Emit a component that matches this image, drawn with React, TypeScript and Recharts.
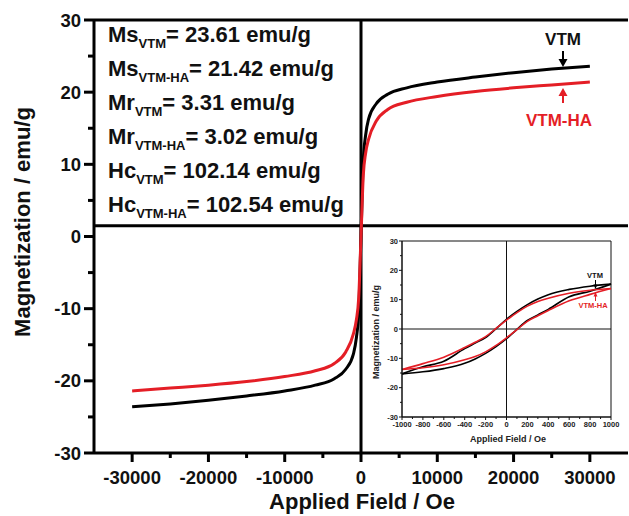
import React from 'react';
import { Label, Line, LineChart, ReferenceLine, XAxis, YAxis } from 'recharts';

const FONT = '"Liberation Sans", Arial, Helvetica, sans-serif';
const RED = '#e41e26';

// main curves (the two hysteresis branches overlap at this scale)
const mainField = [
  -30000, -25000, -20000, -15000, -10000, -6000, -3500, -2000, -1000, -600, -300, 0,
  300, 600, 1000, 2000, 3500, 6000, 10000, 15000, 20000, 25000, 30000,
];
const vtmMain = [
  -23.6, -23.2, -22.7, -22.1, -21.4, -20.6, -19.7, -18.4, -16.3, -14.0, -10.5, 0,
  10.5, 14.0, 16.3, 18.4, 19.7, 20.6, 21.4, 22.1, 22.7, 23.2, 23.6,
];
const vtmHaMain = [
  -21.4, -21.0, -20.6, -20.1, -19.4, -18.6, -17.6, -16.0, -13.5, -11.5, -8.5, 0,
  8.5, 11.5, 13.5, 16.0, 17.6, 18.6, 19.4, 20.1, 20.6, 21.0, 21.4,
];

const mainXTicks = [
  -30000, -25000, -20000, -15000, -10000, -5000, 0, 5000, 10000, 15000, 20000, 25000, 30000,
];
const mainYTicks = [-30, -25, -20, -15, -10, -5, 0, 5, 10, 15, 20, 25, 30];

// inset: low-field loop, upper = descending branch, lower = ascending branch
const insetField = [-1000, -800, -600, -400, -300, -200, -100, 0, 100, 200, 300, 400, 600, 800, 1000];
const vtmUpper = [-15.3, -12.9, -11.0, -6.7, -4.8, -2.9, 0.1, 3.3, 6.0, 8.3, 10.2, 11.7, 13.5, 14.6, 15.3];
const vtmLower = [-15.3, -14.6, -13.5, -11.7, -10.2, -8.3, -6.0, -3.3, -0.1, 2.9, 4.8, 6.7, 11.0, 12.9, 15.3];
const vtmHaUpper = [-13.8, -11.8, -9.6, -6.3, -4.5, -2.6, 0.2, 3.0, 5.6, 7.8, 9.4, 10.5, 12.2, 13.2, 13.8];
const vtmHaLower = [-13.8, -13.2, -12.2, -10.5, -9.4, -7.8, -5.6, -3.0, -0.2, 2.6, 4.5, 6.3, 9.6, 11.8, 13.8];

const insetXTicks = [
  -1000, -900, -800, -700, -600, -500, -400, -300, -200, -100, 0, 100, 200, 300, 400, 500, 600,
  700, 800, 900, 1000,
];
const insetYTicks = [-30, -25, -20, -15, -10, -5, 0, 5, 10, 15, 20, 25, 30];

const statNames = ['Ms', 'Ms', 'Mr', 'Mr', 'Hc', 'Hc'];
const statSubs = ['VTM', 'VTM-HA', 'VTM', 'VTM-HA', 'VTM', 'VTM-HA'];
const statValues = ['23.61', '21.42', '3.31', '3.02', '102.14', '102.54'];

const mainData = mainField.map((h, i) => ({ h, vtm: vtmMain[i], vtmHa: vtmHaMain[i] }));
const insetData = insetField.map((h, i) => ({
  h,
  vtmUp: vtmUpper[i],
  vtmLo: vtmLower[i],
  haUp: vtmHaUpper[i],
  haLo: vtmHaLower[i],
}));

const MainXTick = (props: any) => {
  const { x, y, payload } = props;
  const major = payload.value % 10000 === 0;
  return (
    <g>
      <line x1={x} x2={x} y1={y} y2={y + (major ? 9 : 5)} stroke="#000" strokeWidth={3} />
      {major ? (
        <text x={x} y={y + 31} textAnchor="middle" fontFamily={FONT} fontWeight="bold" fontSize={18.5} fill="#111">
          {payload.value}
        </text>
      ) : null}
    </g>
  );
};

const MainYTick = (props: any) => {
  const { x, y, payload } = props;
  const major = payload.value % 10 === 0;
  return (
    <g>
      <line x1={x} x2={x - (major ? 10 : 6)} y1={y} y2={y} stroke="#000" strokeWidth={3} />
      {major ? (
        <text x={x - 13} y={y} dy="0.36em" textAnchor="end" fontFamily={FONT} fontWeight="bold" fontSize={18.5} fill="#111">
          {payload.value}
        </text>
      ) : null}
    </g>
  );
};

const InsetXTick = (props: any) => {
  const { x, y, payload } = props;
  const major = payload.value % 200 === 0;
  return (
    <g>
      <line x1={x} x2={x} y1={y} y2={y + (major ? 3 : 2)} stroke="#111" strokeWidth={1} />
      {major ? (
        <text x={x} y={y + 10} textAnchor="middle" fontFamily={FONT} fontWeight="bold" fontSize={7.5} fill="#222">
          {payload.value}
        </text>
      ) : null}
    </g>
  );
};

const InsetYTick = (props: any) => {
  const { x, y, payload } = props;
  const major = payload.value % 10 === 0;
  return (
    <g>
      <line x1={x} x2={x - (major ? 3 : 2)} y1={y} y2={y} stroke="#111" strokeWidth={1} />
      {major ? (
        <text x={x - 4} y={y} dy="0.36em" textAnchor="end" fontFamily={FONT} fontWeight="bold" fontSize={7.5} fill="#222">
          {payload.value}
        </text>
      ) : null}
    </g>
  );
};

const App: React.FC = () => {
  return (
    <div
      style={{
        position: 'absolute',
        left: 0,
        top: 0,
        width: 629,
        height: 516,
        overflow: 'hidden',
        background: '#fff',
        fontFamily: FONT,
      }}
    >
      <LineChart width={640} height={516} data={mainData} margin={{ top: 20, right: 12, bottom: 0, left: 0 }}>
        <XAxis
          type="number"
          dataKey="h"
          domain={[-35000, 35000]}
          ticks={mainXTicks}
          interval={0}
          tick={MainXTick}
          tickLine={false}
          tickSize={0}
          tickMargin={0}
          height={63}
          axisLine={{ stroke: '#000', strokeWidth: 3 }}
        >
          <Label
            content={({ viewBox }: any) => (
              <text
                x={362}
                y={viewBox.y + 56}
                textAnchor="middle"
                fontFamily={FONT}
                fontWeight="bold"
                fontSize={22}
                fill="#111"
              >
                Applied Field / Oe
              </text>
            )}
          />
        </XAxis>
        <YAxis
          type="number"
          domain={[-30, 30]}
          ticks={mainYTicks}
          interval={0}
          tick={MainYTick}
          tickLine={false}
          tickSize={0}
          tickMargin={0}
          width={94}
          axisLine={{ stroke: '#000', strokeWidth: 3 }}
        >
          <Label
            content={() => (
              <text
                x={30}
                y={222}
                textAnchor="middle"
                transform="rotate(-90, 30, 222)"
                fontFamily={FONT}
                fontWeight="bold"
                fontSize={22}
                fill="#111"
              >
                Magnetization / emu/g
              </text>
            )}
          />
        </YAxis>
        <ReferenceLine y={30} stroke="#000" strokeWidth={3} />
        <ReferenceLine y={1.5} stroke="#000" strokeWidth={3} />
        <ReferenceLine x={0} stroke="#000" strokeWidth={3} />
        <Line type="monotone" dataKey="vtm" stroke="#000" strokeWidth={3} dot={false} isAnimationActive={false} />
        <Line type="monotone" dataKey="vtmHa" stroke={RED} strokeWidth={3} dot={false} isAnimationActive={false} />
      </LineChart>

      <div style={{ position: 'absolute', left: 108, top: 18, fontSize: 22, fontWeight: 'bold', color: '#111', lineHeight: '34px', whiteSpace: 'nowrap' }}>
        {statNames.map((name, i) => (
          <div key={i} style={{ height: 34 }}>
            {name}
            <span style={{ fontSize: 13, position: 'relative', top: 6, lineHeight: 0 }}>{statSubs[i]}</span>= {statValues[i]} emu/g
          </div>
        ))}
      </div>

      <div style={{ position: 'absolute', left: 370, top: 230 }}>
        <LineChart width={251} height={217} data={insetData} margin={{ top: 11, right: 10, bottom: 0, left: 0 }}>
          <XAxis
            type="number"
            dataKey="h"
            domain={[-1000, 1000]}
            ticks={insetXTicks}
            interval={0}
            tick={InsetXTick}
            tickLine={false}
            tickSize={0}
            tickMargin={0}
            height={30}
            axisLine={{ stroke: '#111', strokeWidth: 1.5 }}
          >
            <Label
              content={({ viewBox }: any) => (
                <text x={138} y={viewBox.y + 25} textAnchor="middle" fontFamily={FONT} fontWeight="bold" fontSize={9} fill="#222">
                  Applied Field / Oe
                </text>
              )}
            />
          </XAxis>
          <YAxis
            type="number"
            domain={[-30, 30]}
            ticks={insetYTicks}
            interval={0}
            tick={InsetYTick}
            tickLine={false}
            tickSize={0}
            tickMargin={0}
            width={32}
            axisLine={{ stroke: '#111', strokeWidth: 1.5 }}
          >
            <Label
              content={() => (
                <text x={9} y={102} textAnchor="middle" transform="rotate(-90, 9, 102)" fontFamily={FONT} fontWeight="bold" fontSize={9} fill="#222">
                  Magnetization / emu/g
                </text>
              )}
            />
          </YAxis>
          <ReferenceLine y={30} stroke="#111" strokeWidth={1} />
          <ReferenceLine x={1000} stroke="#111" strokeWidth={1} />
          <ReferenceLine y={0} stroke="#111" strokeWidth={1} />
          <ReferenceLine x={0} stroke="#111" strokeWidth={1} />
          <Line type="monotone" dataKey="vtmUp" stroke="#000" strokeWidth={1.6} dot={false} isAnimationActive={false} />
          <Line type="monotone" dataKey="vtmLo" stroke="#000" strokeWidth={1.6} dot={false} isAnimationActive={false} />
          <Line type="monotone" dataKey="haUp" stroke={RED} strokeWidth={1.6} dot={false} isAnimationActive={false} />
          <Line type="monotone" dataKey="haLo" stroke={RED} strokeWidth={1.6} dot={false} isAnimationActive={false} />
        </LineChart>
      </div>

      <svg width={629} height={516} style={{ position: 'absolute', left: 0, top: 0, pointerEvents: 'none' }}>
        <text x={563} y={45} textAnchor="middle" fontFamily={FONT} fontWeight="bold" fontSize={17} fill="#111">
          VTM
        </text>
        <line x1={563} y1={51} x2={563} y2={60} stroke="#000" strokeWidth={2} />
        <polygon points="558.5,59 567.5,59 563,67" fill="#000" />
        <line x1={563} y1={95} x2={563} y2={103} stroke={RED} strokeWidth={2} />
        <polygon points="558.5,96 567.5,96 563,88" fill={RED} />
        <text x={559} y={126} textAnchor="middle" fontFamily={FONT} fontWeight="bold" fontSize={17} fill={RED}>
          VTM-HA
        </text>

        <text x={595} y={278} textAnchor="middle" fontFamily={FONT} fontWeight="bold" fontSize={7.5} fill="#111">
          VTM
        </text>
        <line x1={595.5} y1={280} x2={595.5} y2={285} stroke="#000" strokeWidth={1} />
        <polygon points="593.5,284.5 597.5,284.5 595.5,289" fill="#000" />
        <line x1={595.5} y1={296} x2={595.5} y2={301} stroke={RED} strokeWidth={1} />
        <polygon points="593.5,296.5 597.5,296.5 595.5,292" fill={RED} />
        <text x={593} y={308} textAnchor="middle" fontFamily={FONT} fontWeight="bold" fontSize={7.5} fill={RED}>
          VTM-HA
        </text>
      </svg>
    </div>
  );
};

export default App;
